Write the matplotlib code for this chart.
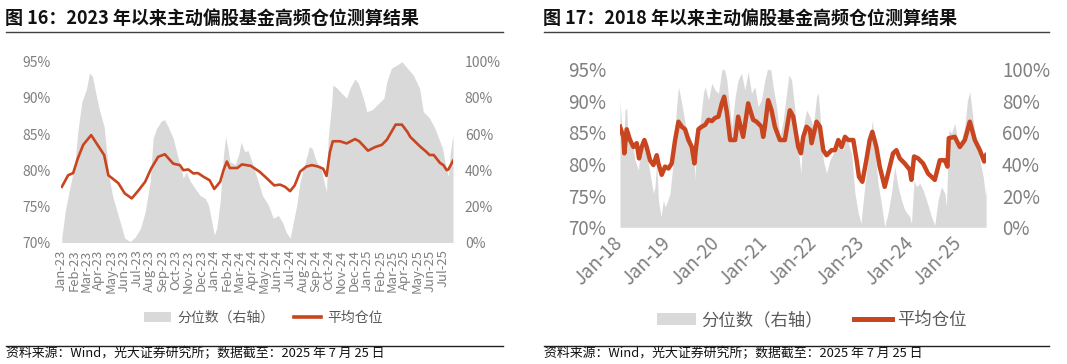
import matplotlib
matplotlib.use('Agg')
import matplotlib.pyplot as plt
import matplotlib.dates as mdates
from matplotlib.patches import Patch
from matplotlib.lines import Line2D
import pandas as pd

plt.rcParams['font.family'] = ['Noto Sans CJK SC', 'DejaVu Sans']

# ---------------- texts ----------------
left_title = "图 16：2023 年以来主动偏股基金高频仓位测算结果"
right_title = "图 17：2018 年以来主动偏股基金高频仓位测算结果"
source_text = "资料来源：Wind，光大证券研究所；数据截至：2025 年 7 月 25 日"
legend_labels = ["分位数（右轴）", "平均仓位"]

# ---------------- data: figure 16 (since 2023) ----------------
left_line_dates = ["2023-01-03", "2023-01-18", "2023-01-30", "2023-02-10", "2023-02-23", "2023-03-14",
                   "2023-03-27", "2023-04-14", "2023-04-24", "2023-05-05", "2023-05-18", "2023-06-02",
                   "2023-06-19", "2023-07-05", "2023-07-21", "2023-08-04", "2023-08-21", "2023-09-06",
                   "2023-09-26", "2023-10-12", "2023-10-20", "2023-11-01", "2023-11-13", "2023-11-24",
                   "2023-12-07", "2023-12-22", "2024-01-02", "2024-01-16", "2024-01-24", "2024-02-01",
                   "2024-02-08", "2024-02-26", "2024-03-08", "2024-03-29", "2024-04-19", "2024-05-06",
                   "2024-05-24", "2024-06-07", "2024-06-19", "2024-07-01", "2024-07-12", "2024-07-25",
                   "2024-08-09", "2024-08-22", "2024-09-06", "2024-09-18", "2024-09-26", "2024-10-04",
                   "2024-10-11", "2024-10-28", "2024-11-13", "2024-12-03", "2024-12-13", "2025-01-03",
                   "2025-01-20", "2025-02-05", "2025-02-17", "2025-03-10", "2025-03-25", "2025-04-07",
                   "2025-04-14", "2025-05-07", "2025-05-23", "2025-05-30", "2025-06-09", "2025-06-24",
                   "2025-07-02", "2025-07-10", "2025-07-14", "2025-07-25"]
left_line_vals = [77.7, 79.3, 79.6, 81.6, 83.5, 84.85, 83.7, 82.1, 79.3, 78.8, 78.2, 76.8, 76.1, 77.2,
                  78.4, 80.2, 81.85, 82.2, 80.9, 80.7, 80.0, 80.1, 79.55, 79.6, 79.1, 78.6, 77.4, 78.4,
                  80.0, 81.2, 80.3, 80.3, 80.8, 80.6, 79.8, 78.9, 77.9, 78.0, 77.7, 77.1, 77.9, 79.8,
                  80.5, 80.7, 80.5, 80.2, 79.2, 82.5, 84.0, 84.0, 83.7, 84.3, 84.0, 82.7, 83.2, 83.5,
                  84.2, 86.3, 86.3, 85.3, 84.6, 83.3, 82.5, 82.1, 82.1, 81.0, 80.7, 80.0, 80.1, 81.3]

left_pct_dates = ["2023-01-03", "2023-01-11", "2023-01-20", "2023-02-03", "2023-02-10", "2023-02-20",
                  "2023-03-03", "2023-03-10", "2023-03-17", "2023-03-23", "2023-03-31", "2023-04-07",
                  "2023-04-14", "2023-04-20", "2023-04-26", "2023-05-04", "2023-05-15", "2023-05-22",
                  "2023-06-02", "2023-06-15", "2023-06-27", "2023-07-10", "2023-07-21", "2023-08-02",
                  "2023-08-09", "2023-08-17", "2023-08-28", "2023-09-05", "2023-09-14", "2023-09-26",
                  "2023-10-04", "2023-10-12", "2023-10-20", "2023-10-27", "2023-11-06", "2023-11-17",
                  "2023-11-29", "2023-12-11", "2023-12-19", "2023-12-27", "2024-01-02", "2024-01-08",
                  "2024-01-16", "2024-01-24", "2024-01-29", "2024-02-05", "2024-02-08", "2024-02-21",
                  "2024-02-29", "2024-03-06", "2024-03-15", "2024-03-22", "2024-03-27", "2024-04-03",
                  "2024-04-16", "2024-04-26", "2024-05-10", "2024-05-22", "2024-06-03", "2024-06-14",
                  "2024-06-21", "2024-07-01", "2024-07-09", "2024-07-17", "2024-07-25", "2024-08-02",
                  "2024-08-09", "2024-08-16", "2024-08-23", "2024-08-30", "2024-09-06", "2024-09-13",
                  "2024-09-20", "2024-09-26", "2024-09-30", "2024-10-08", "2024-10-11", "2024-10-18",
                  "2024-11-01", "2024-11-13", "2024-11-21", "2024-12-03", "2024-12-11", "2024-12-23",
                  "2024-12-31", "2025-01-13", "2025-01-24", "2025-02-10", "2025-02-17", "2025-02-28",
                  "2025-03-14", "2025-03-25", "2025-04-07", "2025-04-21", "2025-05-06", "2025-05-15",
                  "2025-05-30", "2025-06-12", "2025-06-24", "2025-06-30", "2025-07-07", "2025-07-14",
                  "2025-07-18", "2025-07-23", "2025-07-25"]
left_pct_vals = [3, 17, 28, 43, 61, 78, 85, 93.7, 92, 85, 76, 69.7, 64, 50, 36, 26, 17, 11.5, 2.5, 0.5,
                 3, 8, 17, 33.7, 57.7, 63, 67, 68, 64, 57.7, 50, 43, 35.6, 39, 33.7, 30, 26, 24.5, 20.8,
                 11.5, 4, 8, 22.6, 48.4, 58.6, 50, 44.7, 43, 48.4, 55.5, 50, 51, 48, 43, 33.7, 26, 20.8,
                 13.4, 15, 10.6, 6, 2.3, 11.5, 20.8, 33.7, 41, 46.7, 53, 52, 46.7, 43, 41, 33.7, 28,
                 57.7, 76, 87, 86, 82.6, 79.8, 85.4, 90.5, 88, 79.8, 72.4, 73.4, 76, 79.8, 89, 96.4,
                 98.3, 100, 96.4, 92.7, 85.4, 72.4, 68.8, 63, 55.8, 52, 43, 36.4, 48.4, 56.8, 59.5]

# ---------------- data: figure 17 (since 2018), x in decimal years ----------------
right_line_years = [2018.01, 2018.079, 2018.10, 2018.148, 2018.217, 2018.286, 2018.355, 2018.403,
                    2018.458, 2018.513, 2018.561, 2018.630, 2018.699, 2018.768, 2018.802, 2018.871,
                    2018.940, 2019.009, 2019.078, 2019.147, 2019.216, 2019.285, 2019.353, 2019.422,
                    2019.491, 2019.546, 2019.581, 2019.629, 2019.698, 2019.767, 2019.835, 2019.905,
                    2019.973, 2020.041, 2020.111, 2020.159, 2020.215, 2020.283, 2020.386, 2020.448,
                    2020.551, 2020.655, 2020.758, 2020.827, 2020.930, 2020.965, 2021.0, 2021.068,
                    2021.137, 2021.206, 2021.309, 2021.412, 2021.481, 2021.515, 2021.584, 2021.688,
                    2021.743, 2021.791, 2021.860, 2021.929, 2021.963, 2022.066, 2022.135, 2022.204,
                    2022.273, 2022.376, 2022.445, 2022.514, 2022.583, 2022.652, 2022.721, 2022.824,
                    2022.893, 2022.941, 2023.010, 2023.093, 2023.162, 2023.217, 2023.30, 2023.369,
                    2023.472, 2023.541, 2023.644, 2023.713, 2023.782, 2023.885, 2023.989, 2024.023,
                    2024.078, 2024.161, 2024.264, 2024.367, 2024.505, 2024.609, 2024.712, 2024.767,
                    2024.794, 2024.918, 2025.022, 2025.125, 2025.228, 2025.332, 2025.435, 2025.524,
                    2025.565]
right_line_vals = [85.9, 84.3, 81.7, 85.5, 83.8, 82.7, 83.3, 80.9, 82.7, 83.8, 82.7, 80.6, 79.85, 81.4,
                   80.1, 78.3, 79.6, 79.3, 80.1, 83.8, 86.7, 85.9, 85.5, 83.8, 82.7, 80.1, 82.7, 85.5,
                   85.9, 86.2, 87.0, 86.8, 87.3, 87.5, 89.6, 90.65, 88.2, 83.8, 83.8, 87.5, 84.3, 89.6,
                   87.0, 86.7, 85.9, 84.3, 85.9, 90.1, 88.5, 85.9, 83.8, 83.8, 87.0, 88.5, 87.5, 82.7,
                   81.7, 84.3, 85.9, 85.4, 83.3, 86.7, 85.9, 82.2, 81.4, 82.2, 82.2, 83.8, 82.7, 84.3,
                   83.8, 83.8, 80.6, 78.0, 77.2, 80.6, 83.8, 85.1, 82.7, 79.6, 76.4, 78.5, 81.7, 82.2,
                   80.9, 80.1, 79.1, 77.5, 81.2, 80.9, 80.1, 78.5, 77.5, 80.6, 80.6, 79.6, 84.1, 84.3,
                   82.7, 83.8, 86.7, 83.8, 82.2, 80.4, 81.4]

right_pct_years = [2018.01, 2018.079, 2018.114, 2018.148, 2018.182, 2018.251, 2018.320, 2018.389,
                   2018.424, 2018.492, 2018.561, 2018.630, 2018.699, 2018.733, 2018.768, 2018.802,
                   2018.857, 2018.906, 2018.940, 2018.975, 2019.043, 2019.112, 2019.167, 2019.216,
                   2019.271, 2019.319, 2019.388, 2019.457, 2019.525, 2019.560, 2019.594, 2019.663,
                   2019.732, 2019.767, 2019.835, 2019.904, 2019.973, 2020.042, 2020.111, 2020.166,
                   2020.214, 2020.249, 2020.318, 2020.386, 2020.448, 2020.517, 2020.586, 2020.655,
                   2020.724, 2020.792, 2020.861, 2020.930, 2020.999, 2021.054, 2021.123, 2021.171,
                   2021.240, 2021.309, 2021.378, 2021.447, 2021.495, 2021.550, 2021.619, 2021.688,
                   2021.743, 2021.791, 2021.860, 2021.929, 2021.998, 2022.066, 2022.101, 2022.156,
                   2022.204, 2022.273, 2022.342, 2022.411, 2022.480, 2022.549, 2022.618, 2022.666,
                   2022.721, 2022.790, 2022.858, 2022.927, 2022.982, 2023.059, 2023.128, 2023.183,
                   2023.217, 2023.265, 2023.334, 2023.403, 2023.472, 2023.541, 2023.610, 2023.679,
                   2023.748, 2023.816, 2023.885, 2023.989, 2024.023, 2024.078, 2024.126, 2024.195,
                   2024.264, 2024.333, 2024.436, 2024.505, 2024.574, 2024.643, 2024.712, 2024.746,
                   2024.794, 2024.850, 2024.918, 2024.987, 2025.056, 2025.125, 2025.180, 2025.228,
                   2025.297, 2025.366, 2025.435, 2025.504, 2025.552, 2025.565]
right_pct_vals = [80.5, 46.8, 74.2, 75.3, 53.1, 57.3, 42.6, 36.2, 46.8, 53.1, 46.8, 34.2, 21.5, 25.7,
                  42.6, 17.3, 6.7, 17.3, 13, 15.1, 21.5, 42.6, 72.1, 88.9, 80.5, 72.1, 59.5, 57.3, 51,
                  29.9, 63.6, 65.7, 84.8, 88.9, 80.5, 91, 86.8, 84.8, 99.5, 100, 93.2, 82.6, 63.6, 82.6,
                  93.2, 97.4, 86.8, 98.4, 84.8, 88.9, 76.3, 80.5, 93.2, 100, 99.5, 88.9, 76.3, 57.3,
                  67.8, 84.8, 96.3, 93.2, 74.2, 48.9, 34.2, 63.6, 74.2, 70, 63.6, 82.6, 84.8, 63.6,
                  42.6, 34.2, 42.6, 46.8, 51, 53.1, 48.9, 59.5, 53.1, 46.8, 21.5, 8.9, 2.5, 25.7, 42.6,
                  59.5, 67.8, 51, 27.8, 15.1, 0.4, 8.9, 21.5, 38.3, 25.7, 17.3, 11, 6.7, 2.5, 29.9, 25.7,
                  27.8, 23.6, 17.3, 6.7, 1.4, 17.3, 25.7, 21.5, 13, 61.5, 59.5, 65.7, 53.1, 55.2, 63.6,
                  80.5, 85.8, 67.8, 53.1, 42.6, 32, 19.4, 25.7]

left_ticks = [70, 75, 80, 85, 90, 95]
right_ticks = [0, 20, 40, 60, 80, 100]

# ---------------- style ----------------
GREY = '#D9D9D9'
RED = '#C8451F'
TICKC = '#7F7F7F'
W, H = 1067, 364


def fx(x):
    return x / W


def fy(y):
    return 1 - y / H


def years_to_dates(years):
    base = pd.Timestamp('2018-01-01')
    return [base + pd.Timedelta(days=(t - 2018) * 365.25) for t in years]


fig = plt.figure(figsize=(W / 100, H / 100), dpi=100)


def setup(ax, ax2, ysize, lpad, rpad):
    for a in (ax, ax2):
        for s in a.spines.values():
            s.set_visible(False)
    ax.set_zorder(ax2.get_zorder() + 1)
    ax.patch.set_visible(False)
    ax.set_ylim(70, 95)
    ax2.set_ylim(0, 100)
    ax.set_yticks(left_ticks)
    ax.set_yticklabels([f"{v}%" for v in left_ticks])
    ax2.set_yticks(right_ticks)
    ax2.set_yticklabels([f"{v}%" for v in right_ticks])
    ax.tick_params(axis='y', length=0, pad=lpad, labelsize=ysize, labelcolor=TICKC)
    ax2.tick_params(axis='y', length=0, pad=rpad, labelsize=ysize, labelcolor=TICKC)


# ---------------- left chart ----------------
axL = fig.add_axes([fx(61), fy(242.5), fx(453 - 61), (242.5 - 61.7) / H])
axL2 = axL.twinx()
axL2.fill_between(pd.to_datetime(left_pct_dates), 0, left_pct_vals, color=GREY, lw=0)
axL.plot(pd.to_datetime(left_line_dates), left_line_vals, color=RED, lw=1.9)
setup(axL, axL2, 10, 7.5, 8.5)
axL.set_xlim(pd.Timestamp('2023-01-01'), pd.Timestamp('2025-07-25'))
axL.xaxis.set_major_locator(mdates.MonthLocator())
axL.xaxis.set_major_formatter(mdates.DateFormatter('%b-%y'))
axL.tick_params(axis='x', length=0, pad=5, labelsize=9.4, labelcolor=TICKC, rotation=90)

# ---------------- right chart ----------------
axR = fig.add_axes([fx(619.5), fy(227.3), fx(986 - 619.5), (227.3 - 69.2) / H])
axR2 = axR.twinx()
axR2.fill_between(years_to_dates(right_pct_years), 0, right_pct_vals, color=GREY, lw=0)
axR.plot(years_to_dates(right_line_years), right_line_vals, color=RED, lw=3.2)
setup(axR, axR2, 13.5, 9.5, 11.5)
axR.set_xlim(pd.Timestamp('2018-01-01'), pd.Timestamp('2025-07-25'))
axR.xaxis.set_major_locator(mdates.YearLocator())
axR.xaxis.set_major_formatter(mdates.DateFormatter('%b-%y'))
axR.tick_params(axis='x', length=0, pad=9, labelsize=13.5, labelcolor=TICKC)
for lab in axR.get_xticklabels():
    lab.set_rotation(45)
    lab.set_ha('right')
    lab.set_va('center')
    lab.set_rotation_mode('anchor')

# ---------------- titles, rules, legends, sources ----------------
for x0, x1, title in [(6, 503, left_title), (544, 1049, right_title)]:
    fig.text(fx(x0 - 1), fy(18), title, fontsize=13, fontweight='bold', va='center', ha='left',
             color='#111111')
    fig.add_artist(Line2D([fx(x0), fx(x1)], [fy(32), fy(32)], color='#404040', lw=1))
    fig.add_artist(Line2D([fx(x0), fx(x1)], [fy(345.5), fy(345.5)], color='#202020', lw=1))
    fig.text(fx(x0), fy(354), source_text, fontsize=9.3, va='center', ha='left', color='#111111')

handlesL = [Patch(facecolor=GREY, edgecolor='none'), Line2D([], [], color=RED, lw=2.6)]
fig.legend(handlesL, legend_labels, loc='center', bbox_to_anchor=(fx(263), fy(318)), ncol=2,
           frameon=False, fontsize=10, handlelength=2.0, columnspacing=1.4, handletextpad=0.4,
           labelcolor='#595959')
handlesR = [Patch(facecolor=GREY, edgecolor='none'), Line2D([], [], color=RED, lw=3.6)]
fig.legend(handlesR, legend_labels, loc='center', bbox_to_anchor=(fx(812), fy(320)), ncol=2,
           frameon=False, fontsize=12.5, handlelength=2.2, columnspacing=1.8, handletextpad=0.3,
           labelcolor='#595959')

fig.savefig('out.png', dpi=100)
